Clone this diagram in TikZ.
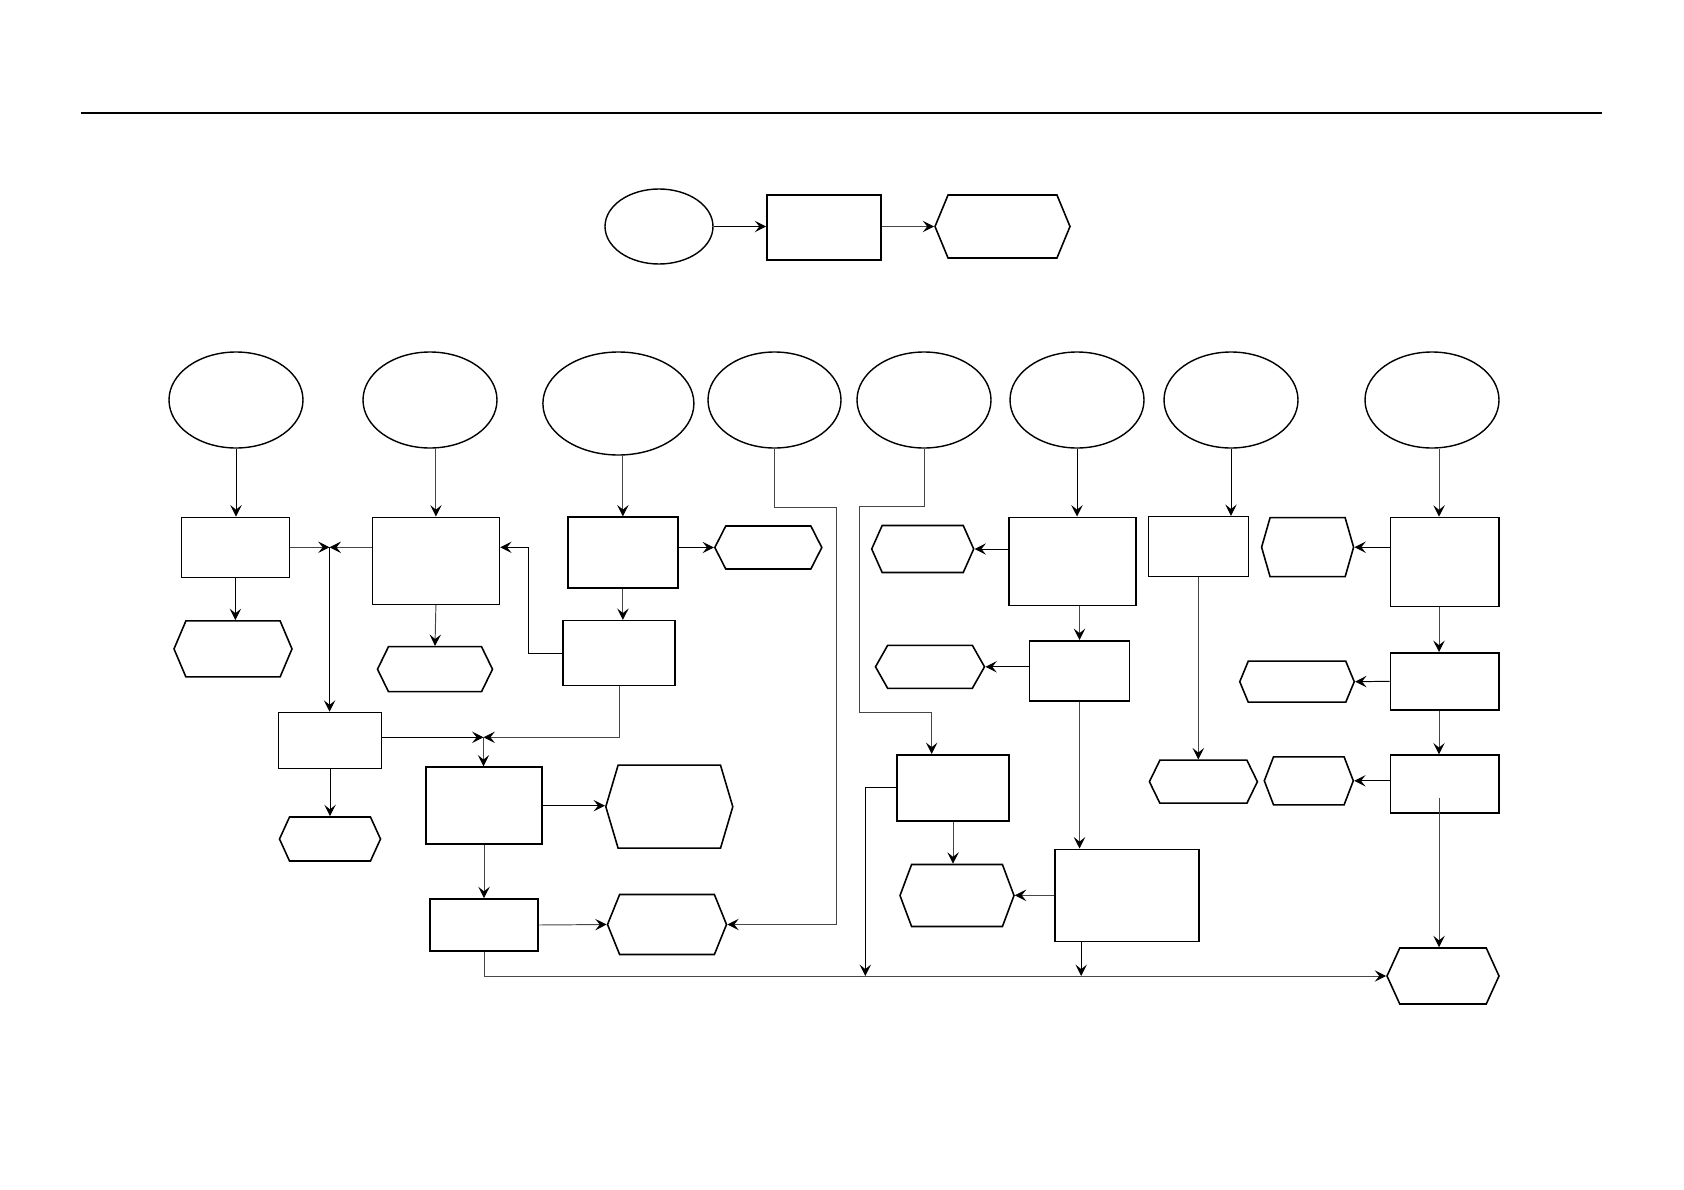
\documentclass[tikz,border=0pt]{standalone}
\usepackage{tikz}
\usetikzlibrary{positioning, arrows.meta, calc, shapes.geometric, shapes.symbols}
\tikzset{
  sz/.style 2 args={minimum width=#1*0.02cm, minimum height=#2*0.02cm},
  blob/.style={draw, ellipse, line width=0.8pt, inner sep=0pt},
  stepbox/.style={draw, rectangle, line width=0.9pt, inner sep=0pt},
  hexa/.style={draw, signal, signal to=west and east, line width=0.9pt, inner sep=0pt},
  wire/.style={-{Stealth[black, length=6.5pt, width=6.5pt, inset=2.6pt]}, line width=0.55pt, black},
  gwire/.style={wire, gray!55!black}
}

\begin{document}
\begin{tikzpicture}[x=0.02cm, y=-0.02cm]
    \useasboundingbox (0,0) rectangle (1684,1190);
    \draw[line width=0.8pt] (80.5,113) -- (1602,113);
    %% legend row
    \node[blob, sz={108}{75}] (e0) at (659,226.5) {};
    \node[stepbox, sz={114}{65}] (r0) at (824,227.5) {};
    \node[hexa, sz={135}{63}, signal pointer angle=135] (h0) at (1002.5,226.5) {};
    \draw[wire]  (e0.east) -- (e0.east -| r0.west);
    \draw[gwire] (r0.east |- h0.west) -- (h0.west);
    %% sources
    \node[blob, sz={134}{96}] (E1) at (236,400) {};
    \node[blob, sz={134}{96}] (E2) at (430,400) {};
    \node[blob, sz={151}{103}] (E3) at (618.4,403.5) {};
    \node[blob, sz={133}{96}] (E4) at (774.5,400) {};
    \node[blob, sz={134}{96}] (E5) at (924,400) {};
    \node[blob, sz={134}{96}] (E6) at (1077,400) {};
    \node[blob, sz={134}{96}] (E7) at (1231,400) {};
    \node[blob, sz={134}{96}] (E8) at (1432,400) {};
    %% left half
    \node[stepbox, sz={108}{60}] (R1)  at (235.4,547.3) {};
    \node[hexa, sz={118}{56}, signal pointer angle=134] (H1) at (233,648.9) {};
    \node[stepbox, sz={127}{87}] (R2)  at (435.9,560.8) {};
    \node[hexa, sz={115}{45}, signal pointer angle=128] (H2) at (435,669.2) {};
    \node[stepbox, sz={110}{71}] (R3)  at (622.9,552.7) {};
    \node[hexa, sz={107}{43}, signal pointer angle=126] (H3) at (768.3,547.5) {};
    \node[stepbox, sz={112}{65}] (R3b) at (619,653.2) {};
    \node[stepbox, sz={103}{56}] (R4)  at (330,740.5) {};
    \node[hexa, sz={101}{44}, signal pointer angle=131] (H4) at (330,839) {};
    \node[stepbox, sz={116}{77}] (R5)  at (484,805.7) {};
    \node[hexa, sz={127}{83}, signal pointer angle=147] (H5) at (669.3,806.7) {};
    \node[stepbox, sz={108}{52}] (R6)  at (484,925) {};
    \node[hexa, sz={119}{60}, signal pointer angle=136] (H6) at (667,924.5) {};
    \coordinate (J1) at (329.6,547.3);
    \coordinate (J2) at (483.5,737.3);
    %% right half
    \node[stepbox, sz={112}{66}] (R7)  at (953,787.8) {};
    \node[hexa, sz={114}{62}, signal pointer angle=139] (H7) at (957,895.5) {};
    \node[stepbox, sz={144}{92}] (R8)  at (1126.8,895.3) {};
    \node[stepbox, sz={127}{88}] (R9)  at (1072.5,561.3) {};
    \node[hexa, sz={102}{47}, signal pointer angle=132] (H9) at (922.7,549) {};
    \node[stepbox, sz={100}{60}] (R9b) at (1079.5,670.8) {};
    \node[hexa, sz={109}{43}, signal pointer angle=121] (H10) at (930,666.8) {};
    \node[stepbox, sz={100}{60}] (R10) at (1198.3,546.7) {};
    \node[hexa, sz={108}{43}, signal pointer angle=128] (H11) at (1203.4,781.7) {};
    \node[stepbox, sz={108.5}{89}] (R11) at (1444.7,562) {};
    \node[hexa, sz={92}{59}, signal pointer angle=148] (H12) at (1307.6,547.2) {};
    \node[stepbox, sz={108.5}{57}] (R12) at (1444.7,681.3) {};
    \node[hexa, sz={114.5}{41}, signal pointer angle=135] (H13) at (1297,681.7) {};
    \node[stepbox, sz={108.5}{58}] (R13) at (1444.7,784.2) {};
    \node[hexa, sz={89}{48}, signal pointer angle=138] (H14) at (1308.8,780.8) {};
    \node[hexa, sz={112}{56}, signal pointer angle=131] (Hf) at (1443,976) {};
    \coordinate (c8) at (1439,0);
    \coordinate (k5) at (931.7,712.7);
    \coordinate (b1) at (865.3,976);
    \coordinate (b2) at (1081.2,976);
    % left connectors
    \draw[wire]  (E1.south) -- (E1.south |- R1.north);
    \draw[wire]  (R1.south) -- (R1.south |- H1.north);
    \draw[gwire] (R1.east) -- (J1);
    \draw[gwire] ($(R2.west)+(0,-13.5)$) -- (J1);
    \draw[gwire] (E2.south -| R2.north) -- (R2.north);
    \draw[gwire] (R2.south) -- (H2.north);
    \draw[gwire] (R3.north |- E3.south) -- (R3.north);
    \draw[wire]  (R3.east |- H3.west) -- (H3.west);
    \draw[gwire] (R3.south) -- (R3.south |- R3b.north);
    \draw[wire]  (R3b.west) -| (528.6,547.3) -- ($(R2.east)+(0,-13.5)$);
    \draw[gwire] (R3b.south) |- (J2);
    \draw[wire]  (J1) -- (J1 |- R4.north);
    \draw[wire]  (R4.east |- J2) -- (J2);
    \draw[gwire] (J2) -- (J2 |- R5.north);
    \draw[wire]  (R4.south) -- (H4.north);
    \draw[wire]  (R5.east) -- (R5.east -| H5.west);
    \draw[gwire] (R5.south) -- (R6.north);
    \draw[gwire] (R6.east) -- (H6.west);
    \draw[gwire] (E4.south) |- (836.6,507) |- (H6.east);
    \draw[gwire] (R6.south) |- (Hf.west);
    % right connectors
    \draw[gwire] (E5.south) |- (859.8,506.7) |- (k5) -- (k5 |- R7.north);
    \draw[wire]  (R7.west) -| (b1);
    \draw[gwire] (R7.south) -- (R7.south |- H7.north);
    \draw[gwire] (R8.west) -- (R8.west -| H7.east);
    \draw[wire]  (R8.south -| b2) -- (b2);
    \draw[wire]  (E6.south) -- (E6.south |- R9.north);
    \draw[wire]  (R9.west |- H9.east) -- (H9.east);
    \draw[gwire] (R9b.north |- R9.south) -- (R9b.north);
    \draw[wire]  (R9b.west |- H10.east) -- (H10.east);
    \draw[gwire] (R9b.south) -- (R9b.south |- R8.north);
    \draw[wire]  (E7.south) -- (E7.south |- R10.north);
    \draw[gwire] (R10.south) -- (R10.south |- H11.north);
    \draw[gwire] (E8.south -| c8) -- (R11.north -| c8);
    \draw[wire]  (R11.west |- H12.east) -- (H12.east);
    \draw[gwire] (R11.south -| c8) -- (R12.north -| c8);
    \draw[wire]  (R12.west) -- (H13.east);
    \draw[gwire] (R12.south -| c8) -- (R13.north -| c8);
    \draw[wire]  (R13.west |- H14.east) -- (H14.east);
    \draw[gwire] ($(R13.center -| c8)+(0,13.5)$) -- (Hf.north -| c8);
  \end{tikzpicture}
\end{document}
